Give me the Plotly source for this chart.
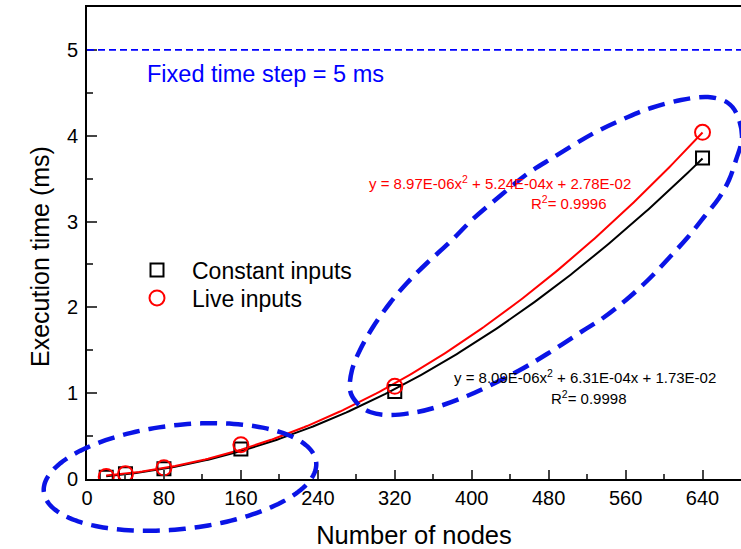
import numpy as np
import plotly.graph_objects as go

# ---------------- data ----------------
nodes = [20, 40, 80, 160, 320, 640]
constant_ms = [0.02, 0.06, 0.12, 0.35, 1.02, 3.74]
live_ms = [0.03, 0.06, 0.13, 0.40, 1.08, 4.04]
const_fit = [8.09e-6, 6.31e-4, 1.73e-2]   # a, b, c of a*x^2 + b*x + c
live_fit = [8.97e-6, 5.24e-4, 2.78e-2]
const_r2 = 0.9998
live_r2 = 0.9996
x_ticks = [0, 80, 160, 240, 320, 400, 480, 560, 640]
y_ticks = [0, 1, 2, 3, 4, 5]
fixed_step_ms = 5

# ---------------- layout constants ----------------
W, H = 741, 549
M = dict(l=87, r=0, t=7, b=70)
XR = [0, 680]
YR = [0, 5.5]
FONT = "Liberation Sans, Arial, sans-serif"
pw = W - M["l"] - M["r"]
ph = H - M["t"] - M["b"]


def px2paper(px, py):
    return (px - M["l"]) / pw, (H - M["b"] - py) / ph


def fmt(v):
    m, e = f"{v:.2E}".split("E")
    return f"{m}E{int(e):+03d}".replace("+", "")


def eq_text(c):
    return (f"y = {fmt(c[0])}x<sup>2</sup> + {fmt(c[1])}x + {fmt(c[2])}")


fig = go.Figure()

xf = np.linspace(min(nodes), max(nodes), 200)
for coefs, col in [(const_fit, "black"), (live_fit, "red")]:
    fig.add_trace(go.Scatter(x=xf, y=np.polyval(coefs, xf), mode="lines",
                             line=dict(color=col, width=2), showlegend=False,
                             hoverinfo="skip"))

fig.add_trace(go.Scatter(x=nodes, y=constant_ms, mode="markers", name="Constant inputs",
                         legend="legend",
                         marker=dict(symbol="square-open", size=13, color="black",
                                     line=dict(width=2, color="black"))))
fig.add_trace(go.Scatter(x=nodes, y=live_ms, mode="markers", name="Live inputs",
                         legend="legend2",
                         marker=dict(symbol="circle-open", size=15, color="red",
                                     line=dict(width=2, color="red"))))

shapes = []
# fixed time step line
shapes.append(dict(type="line", xref="paper", x0=0, x1=1, yref="y",
                   y0=fixed_step_ms, y1=fixed_step_ms,
                   line=dict(color="#0000ff", width=1.6, dash="7px,4px")))

ELL_LINE = dict(color="#0a14e6", width=4.5, dash="17px,9px")

# ellipse 1 (pixel-space rotated ellipse)
cx, cy, a, b, th = 180, 477, 137, 52, np.deg2rad(6.3)
t = np.linspace(0, 2 * np.pi, 180)
ux, uy = np.cos(th), -np.sin(th)
vx, vy = np.sin(th), np.cos(th)
ex = cx + a * np.cos(t) * ux + b * np.sin(t) * vx
ey = cy + a * np.cos(t) * uy + b * np.sin(t) * vy
pts = [px2paper(x, y) for x, y in zip(ex, ey)]
path1 = "M " + " L ".join(f"{x:.5f},{y:.5f}" for x, y in pts) + " Z"
shapes.append(dict(type="path", xref="paper", yref="paper", path=path1, line=ELL_LINE))

# ellipse 2 (hand drawn outline, closed Catmull-Rom spline, pixel space)
outline = [(742, 138), (738, 117), (728, 103), (708, 97), (681, 100), (651, 108),
           (628, 117), (594, 133), (554, 157), (527, 174), (500, 196), (473, 219),
           (450, 242), (427, 263), (407, 283), (390, 303), (373, 327), (360, 350),
           (352, 370), (350, 390), (357, 403), (370, 412), (390, 415), (417, 412),
           (440, 406), (467, 396), (493, 384), (520, 370), (547, 354), (581, 332),
           (603, 318), (626, 300), (648, 280), (668, 259), (688, 237), (704, 217),
           (719, 198), (729, 180), (736, 160)]
P = [np.array(px2paper(*p)) for p in outline]
n = len(P)
seg = [f"M {P[0][0]:.5f},{P[0][1]:.5f}"]
for i in range(n):
    p0, p1, p2, p3 = P[i - 1], P[i], P[(i + 1) % n], P[(i + 2) % n]
    c1 = p1 + (p2 - p0) / 6
    c2 = p2 - (p3 - p1) / 6
    seg.append(f"C {c1[0]:.5f},{c1[1]:.5f} {c2[0]:.5f},{c2[1]:.5f} {p2[0]:.5f},{p2[1]:.5f}")
path2 = " ".join(seg) + " Z"
shapes.append(dict(type="path", xref="paper", yref="paper", path=path2, line=ELL_LINE))

EQ = 15
ytx, yty = px2paper(40, 257)
annotations = [
    dict(x=60, y=4.72, xref="x", yref="y", xanchor="left", yanchor="middle",
         text=f"Fixed time step = {fixed_step_ms} ms", showarrow=False,
         font=dict(color="#0000ff", size=23.5, family=FONT)),
    dict(x=291, y=3.45, xref="x", yref="y", xanchor="left", yanchor="middle",
         text=eq_text(live_fit), showarrow=False,
         font=dict(color="red", size=EQ, family=FONT)),
    dict(x=501, y=3.22, xref="x", yref="y", xanchor="center", yanchor="middle",
         text=f"R<sup>2</sup>= {live_r2}", showarrow=False,
         font=dict(color="red", size=EQ, family=FONT)),
    dict(x=380, y=1.2, xref="x", yref="y", xanchor="left", yanchor="middle",
         text=eq_text(const_fit), showarrow=False,
         font=dict(color="black", size=EQ, family=FONT)),
    dict(x=522, y=0.944, xref="x", yref="y", xanchor="center", yanchor="middle",
         text=f"R<sup>2</sup>= {const_r2}", showarrow=False,
         font=dict(color="black", size=EQ, family=FONT)),
    dict(x=ytx, y=yty, xref="paper", yref="paper", xanchor="center", yanchor="middle",
         text="Execution time (ms)", textangle=-90, showarrow=False,
         font=dict(color="black", size=25, family=FONT)),
]

LEG = dict(bgcolor="rgba(0,0,0,0)", font=dict(size=23, family=FONT),
           itemwidth=60, xanchor="left", yanchor="middle",
           x=(122 - M["l"]) / pw)

fig.update_layout(
    width=W, height=H, margin=M,
    paper_bgcolor="white", plot_bgcolor="white",
    font=dict(family=FONT, size=20, color="black"),
    shapes=shapes, annotations=annotations,
    legend=dict(LEG, y=px2paper(0, 270)[1]),
    legend2=dict(LEG, y=px2paper(0, 298)[1]),
    xaxis=dict(range=XR, tickvals=x_ticks, ticks="inside", ticklen=9, tickwidth=1.5,
               showline=True, linecolor="black", linewidth=2, mirror=True,
               showgrid=False, zeroline=False,
               minor=dict(dtick=40, tick0=0, ticks="inside", ticklen=5, tickwidth=1.5,
                          showgrid=False),
               tickfont=dict(size=20),
               title=dict(text="Number of nodes", font=dict(size=25.5), standoff=19)),
    yaxis=dict(range=YR, tickvals=y_ticks, ticks="inside", ticklen=10, tickwidth=1.5,
               showline=True, linecolor="black", linewidth=2, mirror=False,
               showgrid=False, zeroline=False, ticklabelstandoff=3,
               minor=dict(dtick=0.5, tick0=0, ticks="inside", ticklen=6, tickwidth=1.5,
                          showgrid=False),
               tickfont=dict(size=20)),
)

fig.write_html("out.html")
